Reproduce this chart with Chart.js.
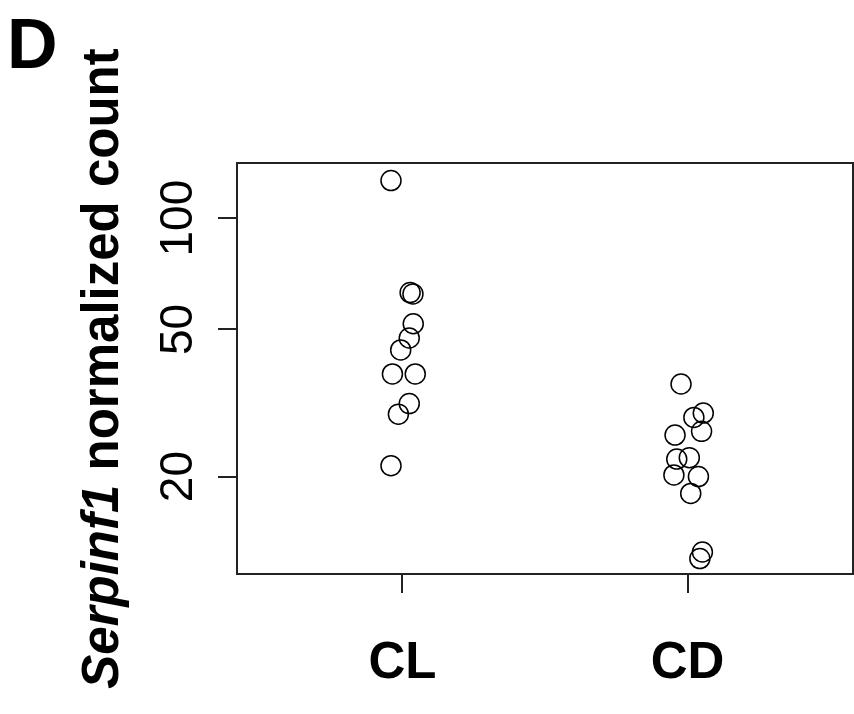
<!DOCTYPE html>
<html>
<head>
<meta charset="utf-8">
<title>Serpinf1 normalized count</title>
<script src="https://cdn.jsdelivr.net/npm/chart.js@4/dist/chart.umd.min.js"></script>
<style>
  body { margin: 0; background: #fff; }
  #wrap { width: 854px; height: 714px; }
</style>
</head>
<body>
<div id="wrap"><canvas id="stripChart" width="854" height="714"></canvas></div>
<script>
// ================== Data ==================
const categories = ['CL', 'CD'];
const yTickValues = [20, 50, 100];

// normalized counts per group, with the horizontal jitter (category units)
const clValues = [126.4, 62.9, 62.4, 51.8, 47.4, 44.0, 37.9, 37.9, 31.5, 29.5, 21.4];
const clJitter = [-0.040, 0.027, 0.037, 0.038, 0.024, -0.006, -0.035, 0.045, 0.024, -0.014, -0.040];
const cdValues = [35.6, 29.7, 28.9, 26.5, 25.9, 22.5, 22.3, 20.2, 20.0, 18.0, 12.5, 12.0];
const cdJitter = [-0.023, 0.055, 0.022, 0.049, -0.044, 0.006, -0.038, -0.048, 0.038, 0.011, 0.052, 0.043];

const FONT = '"Liberation Sans", Arial, Helvetica, sans-serif';

function toPoints(values, jitter, groupIndex) {
  return values.map((v, i) => ({ x: groupIndex + 1 + jitter[i], y: v }));
}

// ================== Extra drawing (box, rotated labels, panel letter) ==================
const decorPlugin = {
  id: 'decor',
  afterDraw(chart) {
    const ctx = chart.ctx;
    const area = chart.chartArea;
    const yScale = chart.scales.y;

    ctx.save();
    // full box round the plot
    ctx.strokeStyle = '#222';
    ctx.lineWidth = 2;
    ctx.strokeRect(area.left, area.top, area.right - area.left, area.bottom - area.top);

    // y tick labels, rotated like R's default
    ctx.fillStyle = '#000';
    ctx.font = '46px ' + FONT;
    ctx.textAlign = 'center';
    ctx.textBaseline = 'alphabetic';
    yTickValues.forEach(v => {
      const py = yScale.getPixelForValue(v);
      ctx.save();
      ctx.translate(192, py);
      ctx.rotate(-Math.PI / 2);
      ctx.fillText(String(v), 0, 0);
      ctx.restore();
    });

    // y axis title: italic gene name + bold text
    const part1 = 'Serpinf1';
    const part2 = ' normalized count';
    const f1 = 'italic bold 51px ' + FONT;
    const f2 = 'bold 51px ' + FONT;
    ctx.font = f1;
    const w1 = ctx.measureText(part1).width;
    ctx.font = f2;
    const w2 = ctx.measureText(part2).width;
    ctx.save();
    ctx.translate(118, (area.top + area.bottom) / 2);
    ctx.rotate(-Math.PI / 2);
    ctx.textAlign = 'left';
    ctx.font = f1;
    ctx.fillText(part1, -(w1 + w2) / 2, 0);
    ctx.font = f2;
    ctx.fillText(part2, -(w1 + w2) / 2 + w1, 0);
    ctx.restore();

    // panel letter
    ctx.font = 'bold 70px ' + FONT;
    ctx.textAlign = 'left';
    ctx.fillText('D', 7, 68);
    ctx.restore();
  }
};

// ================== Chart ==================
const pointStyle = {
  pointRadius: 10,
  pointHoverRadius: 10,
  pointBorderWidth: 1.5,
  borderColor: '#000',
  backgroundColor: 'rgba(0,0,0,0)',
  showLine: false
};

new Chart(document.getElementById('stripChart'), {
  type: 'scatter',
  data: {
    datasets: [
      Object.assign({ label: categories[0], data: toPoints(clValues, clJitter, 0) }, pointStyle),
      Object.assign({ label: categories[1], data: toPoints(cdValues, cdJitter, 1) }, pointStyle)
    ]
  },
  options: {
    responsive: false,
    animation: false,
    layout: { autoPadding: false, padding: { top: 163, right: 1, left: 0, bottom: 0 } },
    plugins: {
      legend: { display: false },
      tooltip: { enabled: false }
    },
    scales: {
      x: {
        type: 'linear',
        min: 0.42,
        max: 2.58,
        afterFit: s => { s.height = 140; s.paddingLeft = 0; s.paddingRight = 0; },
        afterBuildTicks: s => { s.ticks = categories.map((c, i) => ({ value: i + 1 })); },
        border: { display: false },
        grid: {
          drawOnChartArea: false,
          drawTicks: true,
          tickLength: 19,
          color: '#222',
          lineWidth: 2
        },
        ticks: {
          padding: 40,
          color: '#000',
          font: { family: FONT, size: 51, weight: 'bold' },
          callback: v => categories[v - 1] || ''
        }
      },
      y: {
        type: 'logarithmic',
        min: 10.9,
        max: 141,
        afterFit: s => { s.width = 237; s.paddingTop = 0; s.paddingBottom = 0; },
        afterBuildTicks: s => { s.ticks = yTickValues.map(v => ({ value: v })); },
        border: { display: false },
        grid: {
          drawOnChartArea: false,
          drawTicks: true,
          tickLength: 19,
          color: '#222',
          lineWidth: 2
        },
        ticks: { display: false }
      }
    }
  },
  plugins: [decorPlugin]
});
</script>
</body>
</html>
